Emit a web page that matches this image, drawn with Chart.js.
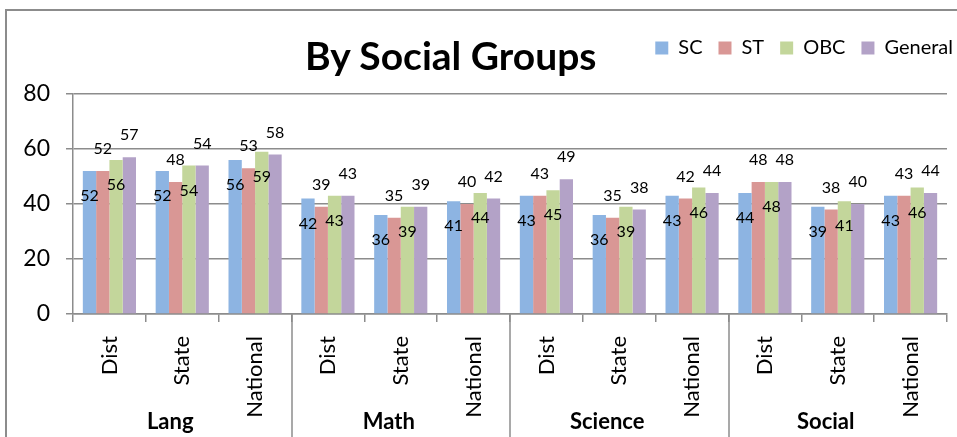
<!DOCTYPE html>
<html>
<head>
<meta charset="utf-8">
<script src="https://cdn.jsdelivr.net/npm/chart.js@4/dist/chart.umd.min.js"></script>
<style>
  html, body { margin: 0; padding: 0; background: #fff; }
  #wrap { position: relative; width: 957px; height: 437px; overflow: hidden; }
  #frame { position: absolute; left: 5px; top: 9px; width: 1000px; height: 500px;
           border-left: 2px solid #8c8c8c; border-top: 2px solid #8c8c8c; }
  #titulo { position: absolute; left: 305px; top: 32px; font: bold 39px Lato, sans-serif; color: #000; white-space: nowrap; }
  canvas { position: absolute; left: 0; top: 0; }
</style>
</head>
<body>
<div id="wrap">
  <div id="frame"></div>
  <canvas id="graf_grupos" width="957" height="437"></canvas>
  <div id="titulo">By Social Groups</div>
</div>
<script>
const niveis = ['Dist', 'State', 'National', 'Dist', 'State', 'National',
                'Dist', 'State', 'National', 'Dist', 'State', 'National']
const materias = ['Lang', 'Math', 'Science', 'Social']

const sc      = [52, 52, 56, 42, 36, 41, 43, 36, 43, 44, 39, 43]
const st      = [52, 48, 53, 39, 35, 40, 43, 35, 42, 48, 38, 43]
const obc     = [56, 54, 59, 43, 39, 44, 45, 39, 46, 48, 41, 46]
const general = [57, 54, 58, 43, 39, 42, 49, 38, 44, 48, 40, 44]

const grupos = ['SC', 'ST', 'OBC', 'General']
const cores = ['#8db4e2', '#d99795', '#c3d69b', '#b3a2c7']
const series = [sc, st, obc, general]

const fonte = 'Lato, sans-serif'
const cinza = '#8c8c8c'

// SC e OBC: rotulo dentro da barra; ST e General: acima da barra
const rotulos = {
  id: 'rotulos',
  afterDatasetsDraw(chart) {
    const ctx = chart.ctx
    ctx.save()
    ctx.font = '16px ' + fonte
    ctx.fillStyle = '#000'
    ctx.textAlign = 'center'
    ctx.textBaseline = 'middle'
    chart.data.datasets.forEach((ds, i) => {
      const meta = chart.getDatasetMeta(i)
      meta.data.forEach((bar, j) => {
        const dy = (i % 2 === 0) ? 25 : -22
        ctx.fillText(ds.data[j], bar.x, bar.y + dy)
      })
    })
    ctx.restore()
  }
}

// segundo nivel do eixo x: linhas entre as materias e o nome de cada uma
const materiasEixo = {
  id: 'materiasEixo',
  afterDraw(chart) {
    const x = chart.scales.x
    const ctx = chart.ctx
    const meio = (a, b) => (x.getPixelForValue(a) + x.getPixelForValue(b)) / 2
    ctx.save()
    ctx.strokeStyle = cinza
    ctx.lineWidth = 1.5
    for (let k = 3; k < niveis.length; k += 3) {
      const px = Math.round(meio(k - 1, k))
      ctx.beginPath()
      ctx.moveTo(px, chart.chartArea.bottom)
      ctx.lineTo(px, chart.height)
      ctx.stroke()
    }
    ctx.font = 'bold 22px ' + fonte
    ctx.fillStyle = '#000'
    ctx.textAlign = 'center'
    ctx.textBaseline = 'alphabetic'
    materias.forEach((m, g) => {
      const cx = x.getPixelForValue(g * 3 + 1) - 12
      ctx.fillText(m, cx, chart.height - 8)
    })
    ctx.restore()
  }
}

// legenda mais para cima e para a direita, ao lado do titulo
const moveLegenda = {
  id: 'moveLegenda',
  afterLayout(chart) {
    const lg = chart.legend
    lg.left += 22
    lg.right += 22
    lg.top -= 26
    lg.bottom -= 26
  }
}

let graf_grupos = new Chart(document.getElementById('graf_grupos'), {
  type: 'bar',
  data: {
    labels: niveis,
    datasets: grupos.map((g, i) => ({
      label: g,
      data: series[i],
      backgroundColor: cores[i],
      borderWidth: 0,
      barPercentage: 1,
      categoryPercentage: 0.73
    }))
  },
  options: {
    responsive: false,
    animation: false,
    layout: { padding: { top: 48, right: 10, left: 0, bottom: 0 } },
    plugins: {
      title: { display: false },
      tooltip: { enabled: false },
      legend: {
        position: 'top',
        align: 'end',
        labels: {
          boxWidth: 13,
          boxHeight: 13,
          padding: 16,
          color: '#000',
          font: { family: fonte, size: 20 }
        }
      }
    },
    scales: {
      y: {
        min: 0,
        max: 80,
        ticks: { stepSize: 20, padding: 16, crossAlign: 'near', color: '#000', font: { family: fonte, size: 23 } },
        grid: { color: cinza, lineWidth: 1.5, tickLength: 7 },
        border: { color: cinza, width: 1.5 },
        afterFit: (s) => { s.width = 73 }
      },
      x: {
        ticks: { minRotation: 90, maxRotation: 90, padding: 14, color: '#000', font: { family: fonte, size: 22 } },
        grid: { drawOnChartArea: false, color: cinza, lineWidth: 1.5, tickLength: 8 },
        border: { color: cinza, width: 1.5 },
        afterFit: (s) => { s.height = 123 }
      }
    }
  },
  plugins: [rotulos, materiasEixo, moveLegenda]
})
</script>
</body>
</html>
